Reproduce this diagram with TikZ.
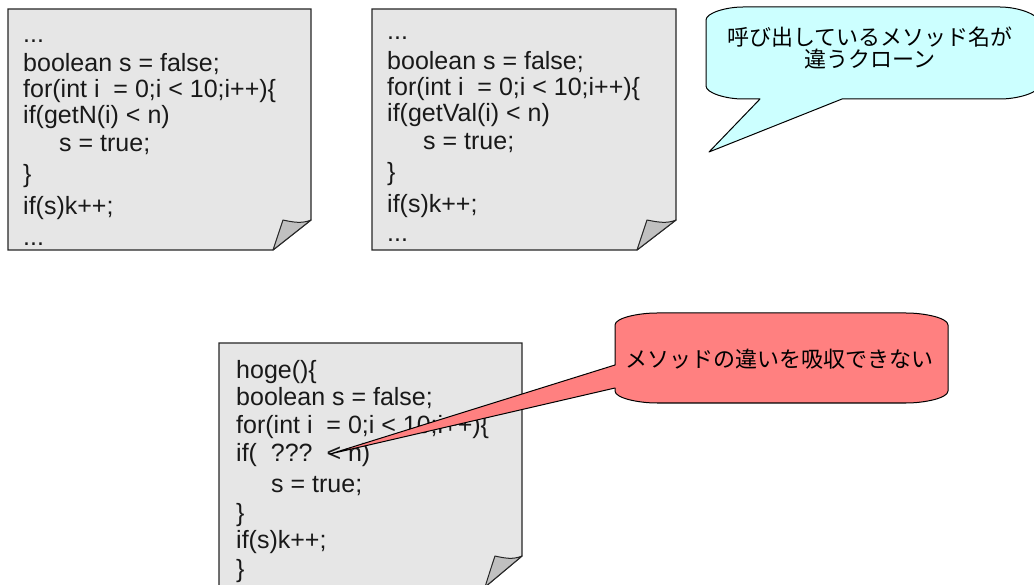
\documentclass[tikz,border=0pt]{standalone}
\usepackage{fontspec}
\newfontfamily\codefont{Liberation Sans}
\newfontfamily\jpfont{Noto Sans CJK JP}
\definecolor{pagefill}{HTML}{E6E6E6}
\definecolor{foldfill}{HTML}{C0C0C0}
\definecolor{cloudcyan}{HTML}{CCFFFF}
\definecolor{alertred}{HTML}{FF8080}

\tikzset{
  page/.style={fill=pagefill, draw=black!85, line width=1.2pt, line join=miter},
  fold/.style={fill=foldfill, draw=black!85, line width=1pt, line join=round},
  code/.style={anchor=base west, inner sep=0pt, text=black!90,
    font=\codefont\fontsize{25}{29}\selectfont},
  balloon/.style={draw=black, line width=1pt, line join=round},
  jptext/.style={inner sep=0pt, align=center, text=black,
    font=\jpfont\fontsize{22}{22}\selectfont},
}

\begin{document}
\begin{tikzpicture}[x=1pt,y=-1pt]
\useasboundingbox (0,0) rectangle (1034,585);

% --- first code sheet ---
\draw[page] (8,9) -- (311,9) -- (311,220) -- (273,250) -- (8,250) -- cycle;
\draw[fold] (311,220) .. controls (302,224) and (292,222) .. (283,220)
  .. controls (279,232) .. (273,250) -- cycle;
\node[code] (a1) at (23,43)  {...};
\node[code] (a2) at (23,72)  {boolean s = false;};
\node[code] (a3) at (23,98)  {for(int i~~= 0;i < 10;i++)\{};
\node[code] (a4) at (23,124) {if(getN(i) < n)};
\node[code] (a5) at (59,152) {s = true;};
\node[code] (a6) at (23,183) {\}};
\node[code] (a7) at (23,215) {if(s)k++;};
\node[code] (a8) at (23,246) {...};

% --- second code sheet ---
\draw[page] (372,9) -- (676,9) -- (676,220) -- (637,250) -- (372,250) -- cycle;
\draw[fold] (676,220) .. controls (667,224) and (657,222) .. (647,220)
  .. controls (643,232) .. (637,250) -- cycle;
\node[code] (b1) at (387,40)  {...};
\node[code] (b2) at (387,70)  {boolean s = false;};
\node[code] (b3) at (387,96)  {for(int i~~= 0;i < 10;i++)\{};
\node[code] (b4) at (387,122) {if(getVal(i) < n)};
\node[code] (b5) at (423,150) {s = true;};
\node[code] (b6) at (387,181) {\}};
\node[code] (b7) at (387,213) {if(s)k++;};
\node[code] (b8) at (387,242) {...};

% --- third code sheet (common method) ---
\draw[page] (219,343) -- (522,343) -- (522,556) -- (485,587) -- (219,587) -- cycle;
\draw[fold] (522,556) .. controls (513,560) and (504,558) .. (495,556)
  .. controls (491,568) .. (485,587) -- cycle;
\node[code] (c1) at (236,378) {hoge()\{};
\node[code] (c2) at (236,406) {boolean s = false;};
\node[code] (c3) at (236,433) {for(int i~~= 0;i < 10;i++)\{};
\node[code] (c4) at (236,461) {if(~~???~~< n)};
\node[code] (c5) at (271,492) {s = true;};
\node[code] (c6) at (236,521) {\}};
\node[code] (c7) at (236,548) {if(s)k++;};
\node[code] (c8) at (236,577) {\}};

% --- cyan speech balloon ---
\draw[balloon, fill=cloudcyan]
  (706,20) .. controls (706,13) and (726,7) .. (743,7) -- (1000,7)
  .. controls (1017,7) and (1040,14) .. (1040,24) -- (1040,84)
  .. controls (1040,93) and (1017,99) .. (1000,99) -- (842,99)
  -- (709,152) -- (760,99) -- (743,99)
  .. controls (726,99) and (706,93) .. (706,86) -- cycle;
\node[jptext] (note1) at (870,48) {呼び出しているメソッド名が\\違うクローン};

% --- red speech balloon ---
\draw[balloon, fill=alertred]
  (615,325) .. controls (615,318) and (638,313) .. (657,313) -- (906,313)
  .. controls (925,313) and (948,318) .. (948,325) -- (948,391)
  .. controls (948,398) and (925,403) .. (906,403) -- (657,403)
  .. controls (638,403) and (615,398) .. (615,391) -- (615,388)
  -- (330,454) -- (615,365) -- cycle;
\node[jptext] (note2) at (779,359) {メソッドの違いを吸収できない};

\end{tikzpicture}
\end{document}
